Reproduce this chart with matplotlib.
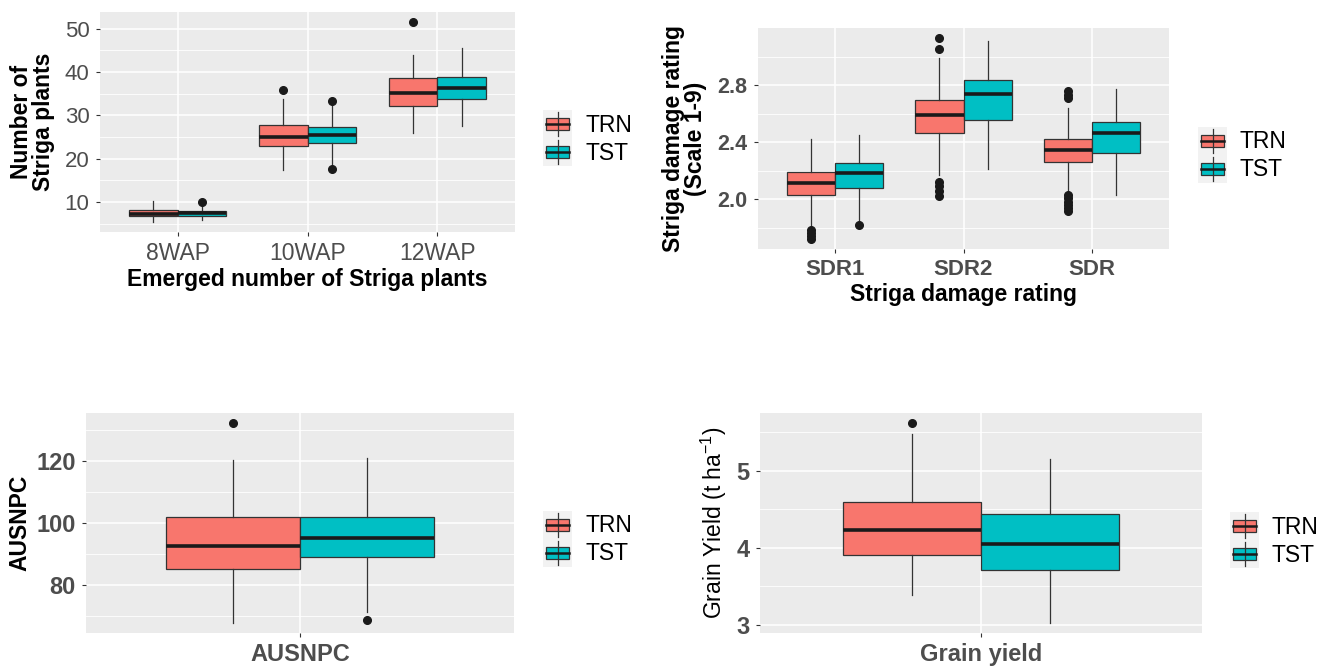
import matplotlib.pyplot as plt
from matplotlib.patches import Rectangle
from matplotlib.ticker import FixedLocator

plt.rcParams['font.family'] = ['Liberation Sans', 'DejaVu Sans']
plt.rcParams['mathtext.fontset'] = 'custom'
plt.rcParams['mathtext.rm'] = 'Liberation Sans'
plt.rcParams['mathtext.it'] = 'Liberation Sans:italic'
plt.rcParams['mathtext.bf'] = 'Liberation Sans:bold'

W, H = 1329, 666
groups = ["TRN", "TST"]
fills = ["#F8766D", "#00BFC4"]

# box stats per category: (lower whisker, q1, median, q3, upper whisker)
wap_cats = ["8WAP", "10WAP", "12WAP"]
wap_trn = [(5.4, 6.8, 7.3, 8.1, 10.2), (17.3, 23.0, 25.1, 27.8, 33.8), (25.8, 32.2, 35.1, 38.5, 43.9)]
wap_trn_out = [[], [35.8], [51.5]]
wap_tst = [(5.9, 6.8, 7.4, 8.0, 9.2), (18.8, 23.6, 25.5, 27.4, 32.5), (27.6, 33.8, 36.2, 38.9, 45.6)]
wap_tst_out = [[9.9], [33.2, 17.6], []]

sdr_cats = ["SDR1", "SDR2", "SDR"]
sdr_trn = [(1.81, 2.03, 2.11, 2.19, 2.42), (2.17, 2.462, 2.592, 2.695, 2.99), (2.054, 2.257, 2.345, 2.42, 2.637)]
sdr_trn_out = [[1.785, 1.76, 1.74, 1.72],
               [3.13, 3.056, 2.117, 2.09, 2.054, 2.023],
               [2.76, 2.73, 2.707, 2.03, 2.007, 1.98, 1.96, 1.937, 1.914]]
sdr_tst = [(1.84, 2.075, 2.18, 2.254, 2.45), (2.21, 2.555, 2.737, 2.835, 3.11), (2.03, 2.322, 2.462, 2.539, 2.77)]
sdr_tst_out = [[1.818], [], []]

aus_cats = ["AUSNPC"]
aus_trn = [(67.6, 84.9, 92.6, 101.7, 120.2)]
aus_trn_out = [[132.2]]
aus_tst = [(71.1, 89.0, 94.9, 101.9, 120.8)]
aus_tst_out = [[68.7]]

gy_cats = ["Grain yield"]
gy_trn = [(3.39, 3.909, 4.226, 4.587, 5.478)]
gy_trn_out = [[5.62]]
gy_tst = [(3.02, 3.704, 4.043, 4.435, 5.152)]
gy_tst_out = [[]]


def px_axes(fig, left, right, top, bottom):
    return fig.add_axes([left / W, 1 - bottom / H, (right - left) / W, (bottom - top) / H])


def draw_panel(ax, cats, series, major, minor):
    allv = []
    for gi, (boxes, outs) in enumerate(series):
        stats = []
        for b, o in zip(boxes, outs):
            stats.append(dict(whislo=b[0], q1=b[1], med=b[2], q3=b[3], whishi=b[4], fliers=o))
            allv += list(b) + list(o)
        pos = [i + 1 + (gi - 0.5) * 0.375 for i in range(len(cats))]
        ax.bxp(stats, positions=pos, widths=0.375, patch_artist=True, showcaps=False,
               manage_ticks=False,
               boxprops=dict(facecolor=fills[gi], edgecolor="#333333", linewidth=0.9),
               whiskerprops=dict(color="#333333", linewidth=0.9),
               medianprops=dict(color="#1A1A1A", linewidth=2.6),
               flierprops=dict(marker="o", markerfacecolor="#1A1A1A", markeredgecolor="#1A1A1A",
                               markersize=5.5))
    lo, hi = min(allv), max(allv)
    pad = (hi - lo) * 0.05
    ax.set_ylim(lo - pad, hi + pad)
    ax.set_xlim(0.4, len(cats) + 0.6)
    ax.set_xticks(range(1, len(cats) + 1), cats)
    ax.set_yticks(major)
    ax.yaxis.set_minor_locator(FixedLocator(minor))
    ax.set_facecolor("#EBEBEB")
    ax.set_axisbelow(True)
    ax.grid(which="major", color="white", linewidth=1.1)
    ax.grid(which="minor", axis="y", color="white", linewidth=0.6)
    for s in ax.spines.values():
        s.set_visible(False)
    ax.tick_params(which="major", length=3, color="#333333", labelcolor="#4D4D4D", pad=4.5)
    ax.tick_params(which="minor", length=0)


def draw_legend(fig, x, y, size=16.5):
    lax = fig.add_axes([x / W, 1 - (y + 56) / H, 29 / W, 56 / H])
    lax.set_xlim(0, 29)
    lax.set_ylim(56, 0)
    lax.axis("off")
    for gi, name in enumerate(groups):
        y0 = gi * 28
        lax.add_patch(Rectangle((0, y0), 29, 28, facecolor="#F2F2F2", edgecolor="none"))
        lax.plot([14.5, 14.5], [y0 + 2, y0 + 26], color="#333333", lw=0.9)
        lax.add_patch(Rectangle((3, y0 + 8), 23, 12, facecolor=fills[gi], edgecolor="#333333", lw=0.9))
        lax.plot([3, 26], [y0 + 14, y0 + 14], color="#1A1A1A", lw=1.8)
        fig.text((x + 42) / W, 1 - (y + y0 + 15) / H, name, fontsize=size, va="center", ha="left",
                 color="black")


fig = plt.figure(figsize=(W / 100, H / 100), dpi=100)

# top left
ax1 = px_axes(fig, 100, 515, 12, 232)
draw_panel(ax1, wap_cats, [(wap_trn, wap_trn_out), (wap_tst, wap_tst_out)],
           [10, 20, 30, 40, 50], [5, 15, 25, 35, 45])
ax1.tick_params(axis="x", labelsize=16.5)
ax1.tick_params(axis="y", labelsize=16)
ax1.set_xlabel("Emerged number of Striga plants", fontsize=16.5, fontweight="bold", labelpad=2)
ax1.set_ylabel("Number of\nStriga plants", fontsize=16.5, fontweight="bold", linespacing=0.95)
ax1.yaxis.set_label_coords((55 - 100) / 415, 0.5)
draw_legend(fig, 543, 110)

# top right
ax2 = px_axes(fig, 758, 1169, 28, 249)
draw_panel(ax2, sdr_cats, [(sdr_trn, sdr_trn_out), (sdr_tst, sdr_tst_out)],
           [2.0, 2.4, 2.8], [1.8, 2.2, 2.6, 3.0])
ax2.set_yticks([2.0, 2.4, 2.8], ["2.0", "2.4", "2.8"])
ax2.tick_params(axis="x", labelsize=16)
ax2.tick_params(axis="y", labelsize=15.5)
for t in ax2.get_xticklabels() + ax2.get_yticklabels():
    t.set_fontweight("bold")
ax2.set_xlabel("Striga damage rating", fontsize=16.5, fontweight="bold", labelpad=2)
ax2.set_ylabel("Striga damage rating\n(Scale 1-9)", fontsize=16.5, fontweight="bold", linespacing=0.92)
ax2.yaxis.set_label_coords((707 - 758) / 411, 0.5)
draw_legend(fig, 1198, 127)

# bottom left
ax3 = px_axes(fig, 86, 514, 413, 633)
draw_panel(ax3, aus_cats, [(aus_trn, aus_trn_out), (aus_tst, aus_tst_out)],
           [80, 100, 120], [70, 90, 110, 130])
ax3.tick_params(axis="both", labelsize=17)
for t in ax3.get_xticklabels() + ax3.get_yticklabels():
    t.set_fontweight("bold")
ax3.set_ylabel("AUSNPC", fontsize=16.5, fontweight="bold")
ax3.yaxis.set_label_coords((31 - 86) / 428, 0.5)
draw_legend(fig, 543, 511)

# bottom right
ax4 = px_axes(fig, 760, 1202, 413, 633)
draw_panel(ax4, gy_cats, [(gy_trn, gy_trn_out), (gy_tst, gy_tst_out)],
           [3, 4, 5], [3.5, 4.5, 5.5])
ax4.tick_params(axis="both", labelsize=17)
for t in ax4.get_xticklabels() + ax4.get_yticklabels():
    t.set_fontweight("bold")
ax4.set_ylabel("Grain Yield (t ha$^{-1}$)", fontsize=16.5)
ax4.yaxis.set_label_coords((729 - 760) / 442, 0.5)
draw_legend(fig, 1230, 512)

fig.savefig("out.png", dpi=100)
